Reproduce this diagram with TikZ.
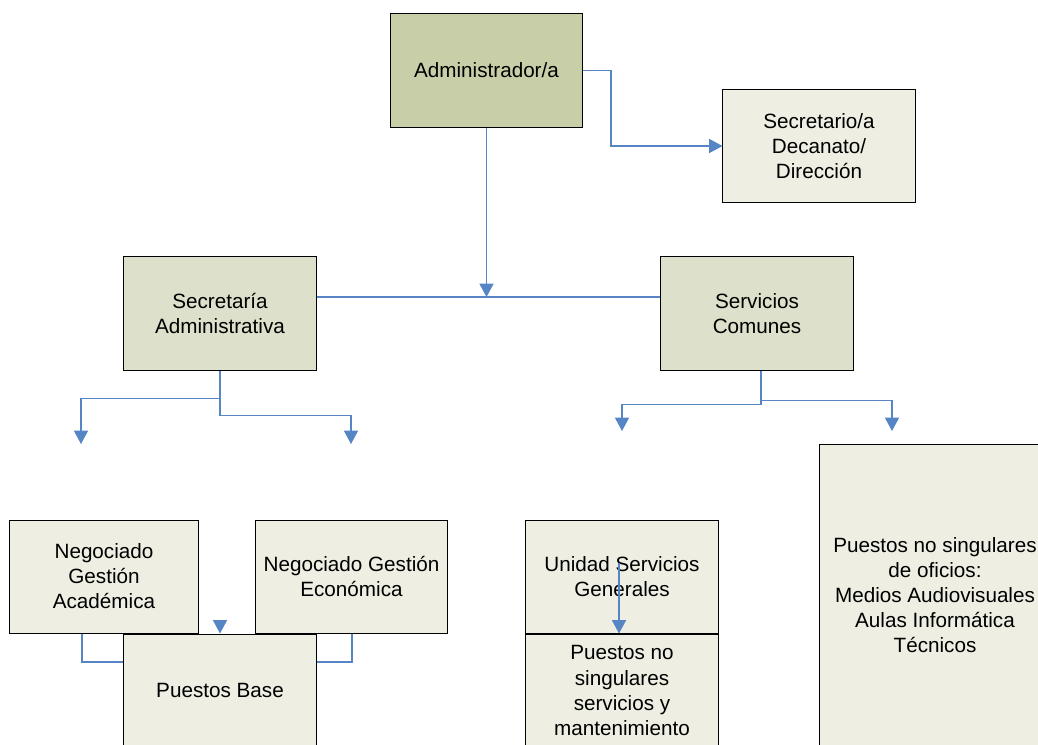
\documentclass[tikz,border=0pt]{standalone}
\usepackage{fontspec}
\setmainfont{Liberation Sans}
\usepackage{tikz}
\usetikzlibrary{arrows.meta}

\definecolor{boxlight}{HTML}{EEEFE2}
\definecolor{boxmid}{HTML}{DDE0CA}
\definecolor{boxdark}{HTML}{C8CFA8}
\definecolor{linkblue}{HTML}{5585C5}
\newcommand{\boxfont}{\fontsize{14.7pt}{17.8pt}\selectfont}

\begin{document}
\begin{tikzpicture}[x=0.025cm, y=-0.025cm,
        unit/.style={draw=black, line width=0.7pt, fill=boxlight, inner sep=0pt,
            align=center, minimum width=4.8cm, minimum height=2.825cm, font=\boxfont},
        head/.style={unit, fill=boxmid},
        chief/.style={unit, fill=boxdark},
        link/.style={draw=linkblue, line width=0.9pt},
        tip/.style={link, -{Triangle[length=9.5pt, width=10pt]}}]

        \useasboundingbox (0,0) rectangle (1038,744);
        \clip (0,0) rectangle (1038,744);

        \node[chief] (admin) at (486.5,70.5) {Administrador/a};
        \node[unit] (secdec) at (819,146) {Secretario/a\\Decanato/\\Dirección};
        \node[head] (secadm) at (220,313.5) {Secretaría\\Administrativa};
        \node[head] (servcom) at (757,313.5) {Servicios\\Comunes};

        \node[unit, minimum width=4.7cm] (negacad) at (104,576.5) {Negociado\\Gestión\\Académica};
        \node[unit, minimum width=4.775cm] (negecon) at (351.5,576.5) {Negociado Gestión\\Económica};
        \node[unit] (pbase) at (220,690.5) {Puestos Base};
        \node[unit] (unidad) at (622,576.5) {Unidad Servicios\\Generales};
        \node[unit] (pnsman) at (622,690.5) {Puestos no\\singulares\\servicios y\\mantenimiento};
        \node[unit, minimum width=5.75cm, minimum height=7.5cm] (pnsofi) at (935,595)
            {Puestos no singulares\\de oficios:\\Medios Audiovisuales\\Aulas Informática\\Técnicos};

        \coordinate (secbend) at (611,146);
        \coordinate (hub) at (486.5,297);
        \coordinate (acadarrow) at (81,444);
        \coordinate (econarrow) at (351,444);
        \coordinate (unidarrow) at (622,431);
        \coordinate (oficarrow) at (892,431);
        \coordinate (basetop) at (220,620);
        \coordinate (unidstart) at (619,563);
        \coordinate (acadknee) at (82,662);
        \coordinate (econknee) at (352,662);

        \draw[tip] (admin.east) -| (secbend) -- (secdec.west);
        \draw[tip] (admin.south) -- (hub);
        \draw[link] (secadm.east |- hub) -- (servcom.west |- hub);

        \draw[tip] (secadm.south) -- ++(0,28) -| (acadarrow);
        \draw[tip] (secadm.south) -- ++(0,45) -| (econarrow);
        \draw[tip] ([xshift=0.1cm]servcom.south) -- ++(0,34) -| (unidarrow);
        \draw[tip] ([xshift=0.1cm]servcom.south) -- ++(0,30) -| (oficarrow);

        \draw[link] (negacad.south -| acadknee) -- (acadknee) -- (acadknee -| pbase.west);
        \draw[link] (negecon.south -| econknee) -- (econknee) -- (econknee -| pbase.east);
        \draw[tip] (basetop) -- (pbase.north);
        \draw[tip] (unidstart) -- (unidstart |- pnsman.north);
    \end{tikzpicture}
\end{document}
